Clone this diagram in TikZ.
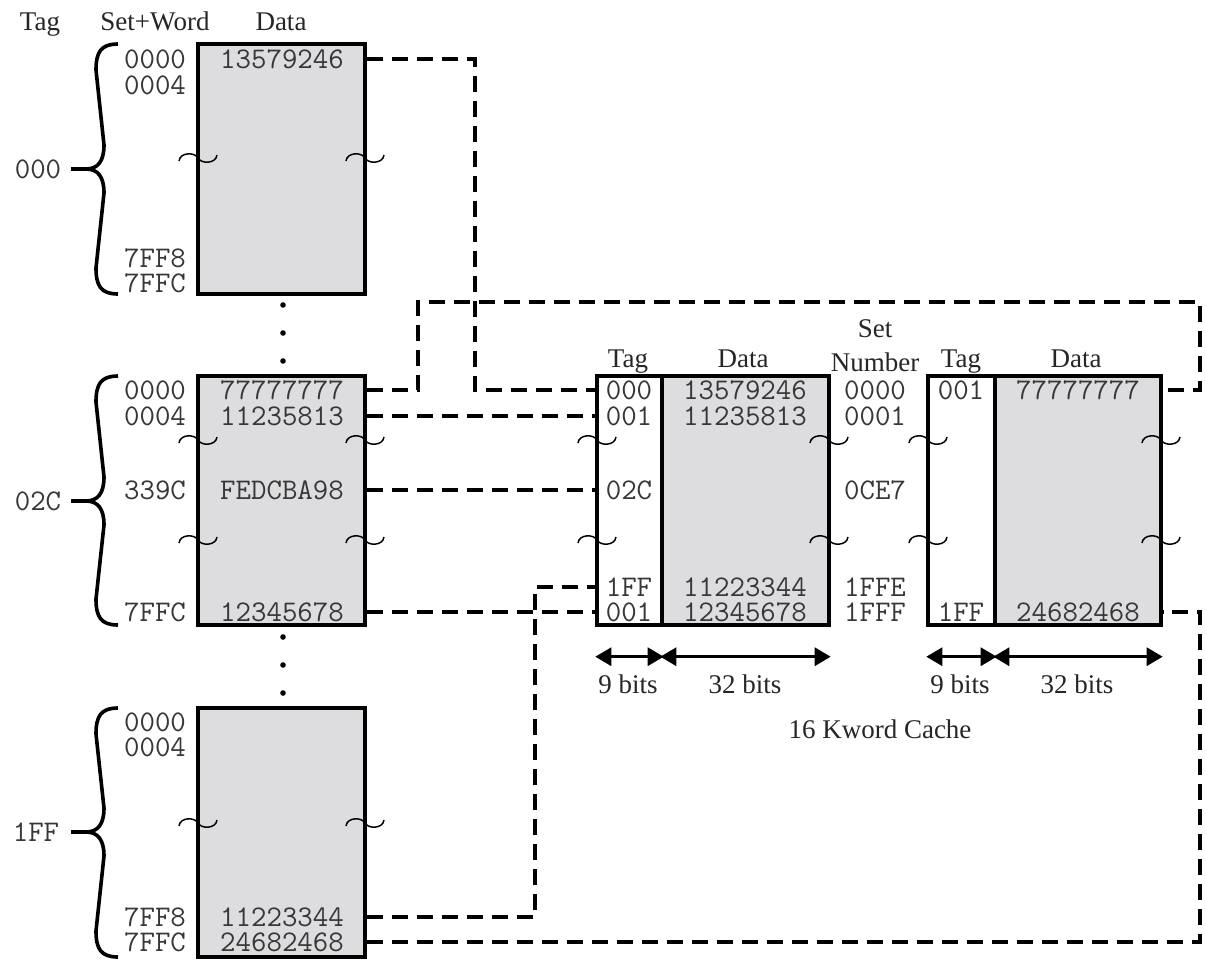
\documentclass[tikz,border=0pt]{standalone}
\usepackage{fontspec}
\setmainfont{Liberation Serif}
\usetikzlibrary{arrows.meta}
\definecolor{memfill}{RGB}{221,221,223}
\definecolor{txt}{RGB}{55,55,55}
\newcommand\membrace[3]{%
  \draw[brc] (118,#1) .. controls (101,#1) and (96,{#1+8}) .. (96,{#1+26})
    -- (104,{#2-24}) .. controls (104,{#2-8}) and (98,#2) .. (86,#2)
    .. controls (98,#2) and (104,{#2+8}) .. (104,{#2+24})
    -- (96,{#3-26}) .. controls (96,{#3-8}) and (101,#3) .. (118,#3);
  \draw[brc] (71,#2) -- (86,#2);}
\newcommand\brkmark[2]{%
  \draw[brk] ({#1-19},{#2+3}) .. controls ({#1-18},{#2-6}) and ({#1-3},{#2-6}) .. (#1,#2)
    .. controls ({#1+3},{#2+6}) and ({#1+18},{#2+6}) .. ({#1+19},{#2-3});}
\begin{document}
\begin{tikzpicture}[x=0.5pt,y=-0.5pt,
  block/.style={draw=black,line width=1.7pt,fill=memfill,inner sep=0,minimum width=83.5pt,minimum height=124.5pt},
  tagcol/.style={draw=black,line width=1.7pt,fill=white,inner sep=0,minimum height=124.5pt},
  mono/.style={font=\ttfamily\fontsize{15}{16}\selectfont,text=txt,inner sep=0},
  lbl/.style={font=\fontsize{13.5}{15}\selectfont,text=black!85,inner sep=0,anchor=base},
  conn/.style={line width=1.8pt,dash pattern=on 8pt off 4.5pt},
  brk/.style={line width=0.75pt},
  brc/.style={line width=1.8pt,line join=round},
  dimline/.style={line width=1.5pt,{Triangle[length=8pt,width=9pt]}-{Triangle[length=8pt,width=9pt]}},
  dotn/.style={circle,fill=black,inner sep=0,minimum size=2.8pt}
]
\useasboundingbox (0,0) rectangle (1206,960);

% headers
\node[lbl] (hTag) at (40,30) {Tag};
\node[lbl] (hSW) at (155,30) {Set+Word};
\node[lbl] (hData) at (281,30) {Data};

% main memory blocks
\node[block,minimum height=125pt] (m1) at (281.5,169) {};
\node[block] (m2) at (281.5,500.5) {};
\node[block] (m3) at (281.5,832.5) {};

% braces
\membrace{44}{169}{294}
\membrace{376}{501}{625}
\membrace{708}{832}{957}
\node[mono] (g1) at (38,169) {000};
\node[mono] (g2) at (38,501) {02C};
\node[mono] (g3) at (36,832) {1FF};

% dots
\node[dotn] (dt1) at (283,305) {};
\node[dotn] (dt2) at (283,333) {};
\node[dotn] (dt3) at (283,361) {};
\node[dotn] (dt4) at (283,637) {};
\node[dotn] (dt5) at (283,665) {};
\node[dotn] (dt6) at (283,693) {};

% block 1 text
\node[mono] (m1a0) at (155,59) {0000};
\node[mono] (m1a1) at (155,85) {0004};
\node[mono] (m1a2) at (155,258) {7FF8};
\node[mono] (m1a3) at (155,283) {7FFC};
\node[mono] (m1d0) at (282,59) {13579246};

% block 2 text
\node[mono] (m2a0) at (155,390) {0000};
\node[mono] (m2a1) at (155,416) {0004};
\node[mono] (m2a2) at (155,490) {339C};
\node[mono] (m2a3) at (155,612) {7FFC};
\node[mono] (m2d0) at (282,390) {77777777};
\node[mono] (m2d1) at (282,416) {11235813};
\node[mono] (m2d2) at (282,490) {FEDCBA98};
\node[mono] (m2d3) at (282,612) {12345678};

% block 3 text
\node[mono] (m3a0) at (155,722) {0000};
\node[mono] (m3a1) at (155,747) {0004};
\node[mono] (m3a2) at (155,917) {7FF8};
\node[mono] (m3a3) at (155,942) {7FFC};
\node[mono] (m3d2) at (282,917) {11223344};
\node[mono] (m3d3) at (282,942) {24682468};

% cache
\node[tagcol,minimum width=32.5pt] (c1t) at (629.5,500.5) {};
\node[block] (c1d) at (745.5,500.5) {};
\node[tagcol,minimum width=33.5pt] (c2t) at (961.5,500.5) {};
\node[block,minimum width=83pt] (c2d) at (1078,500.5) {};

\node[lbl] (ch1) at (628,367) {Tag};
\node[lbl] (ch2) at (743,367) {Data};
\node[lbl] (ch3) at (875,337) {Set};
\node[lbl] (ch4) at (875,371) {Number};
\node[lbl] (ch5) at (961,367) {Tag};
\node[lbl] (ch6) at (1076,367) {Data};

\node[mono] (c1t0) at (629,390) {000};
\node[mono] (c1t1) at (629,416) {001};
\node[mono] (c1t2) at (629,490) {02C};
\node[mono] (c1t3) at (629,587) {1FF};
\node[mono] (c1t4) at (629,612) {001};
\node[mono] (c1d0) at (745,390) {13579246};
\node[mono] (c1d1) at (745,416) {11235813};
\node[mono] (c1d3) at (745,587) {11223344};
\node[mono] (c1d4) at (745,612) {12345678};
\node[mono] (s0) at (875,390) {0000};
\node[mono] (s1) at (875,416) {0001};
\node[mono] (s2) at (875,490) {0CE7};
\node[mono] (s3) at (875,587) {1FFE};
\node[mono] (s4) at (875,612) {1FFF};
\node[mono] (c2t0) at (961,390) {001};
\node[mono] (c2t4) at (961,612) {1FF};
\node[mono] (c2d0) at (1078,390) {77777777};
\node[mono] (c2d4) at (1078,612) {24682468};

% break marks
\brkmark{198}{158}\brkmark{365}{158}
\brkmark{198}{440}\brkmark{365}{440}
\brkmark{198}{540}\brkmark{365}{540}
\brkmark{198}{823}\brkmark{365}{823}
\brkmark{597}{440}\brkmark{829}{440}
\brkmark{597}{540}\brkmark{829}{540}
\brkmark{928}{440}\brkmark{1161}{440}
\brkmark{928}{540}\brkmark{1161}{540}

% width arrows
\draw[dimline] ([yshift=-15pt]c1t.south west) -- ([yshift=-15pt]c1t.south east);
\draw[dimline] ([yshift=-15pt]c1d.south west) -- ([yshift=-15pt]c1d.south east);
\draw[dimline] ([yshift=-15pt]c2t.south west) -- ([yshift=-15pt]c2t.south east);
\draw[dimline] ([yshift=-15pt]c2d.south west) -- ([yshift=-15pt]c2d.south east);
\node[lbl] (b1) at (628,693) {9 bits};
\node[lbl] (b2) at (745,693) {32 bits};
\node[lbl] (b3) at (960,693) {9 bits};
\node[lbl] (b4) at (1077,693) {32 bits};
\node[lbl] (cap) at (880,738) {16 Kword Cache};

% connectors
\coordinate (k1) at (475,200);
\coordinate (k2) at (418,302);
\coordinate (k3) at (1200,340);
\coordinate (k4) at (535,750);
\coordinate (k5) at (1200,780);
\draw[conn] (m1.east |- m1d0) -| (k1) |- (c1t.west |- c1t0);
\draw[conn] (m2.east |- m2d0) -| (k2) -| (k3) |- (c2d.east |- c2d0);
\draw[conn] (m2.east |- m2d1) -- (m2d1 -| c1t.west);
\draw[conn] (m2.east |- m2d2) -- (m2d2 -| c1t.west);
\draw[conn] (m2.east |- m2d3) -- (m2d3 -| c1t.west);
\draw[conn] (m3.east |- m3d2) -| (k4) |- (c1t.west |- c1t3);
\draw[conn] (m3.east |- m3d3) -| (k5) |- (c2d.east |- c2d4);
\end{tikzpicture}
\end{document}
